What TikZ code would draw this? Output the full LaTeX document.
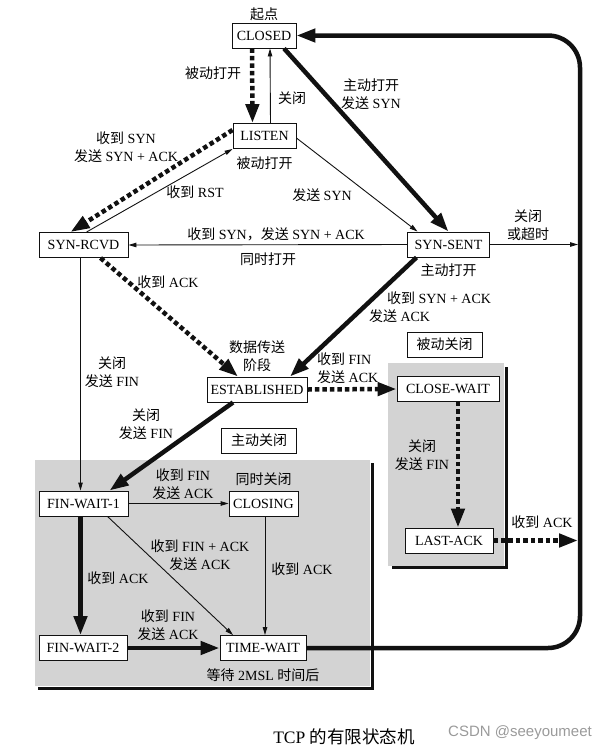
\documentclass[tikz,border=0pt]{standalone}
\usepackage{fontspec}
\setmainfont{Liberation Serif}
\setsansfont{Liberation Sans}
\newfontfamily\zhfont{Noto Sans CJK SC}
\newcommand\zhtext[1]{{\zhfont #1}}
\usepackage{xcolor}
\usepackage{tikz}
\usetikzlibrary{arrows.meta,positioning,calc}
\definecolor{fsmInk}{HTML}{111111}
\definecolor{fsmPanel}{HTML}{D3D3D3}
\definecolor{fsmMark}{HTML}{9A9A9A}
\newcommand\fsmfont{\fontsize{14}{17.5}\selectfont}
\tikzset{
  state box/.style={draw=fsmInk,line width=0.9pt,fill=white,minimum height=25pt,inner sep=2pt,font=\fsmfont},
  phase box/.style={state box,minimum width=75pt},
  edge note/.style={font=\fsmfont,align=center,inner sep=1pt},
  thin arrow/.style={-{Triangle[length=8pt,width=4.5pt]},line width=0.9pt,draw=fsmInk},
  heavy arrow/.style={-{Triangle[length=19pt,width=13pt]},line width=4.5pt,draw=fsmInk},
  dotted arrow/.style={heavy arrow,dash pattern=on 4.5pt off 3pt},
  panel shadow/.style={line width=3pt,draw=fsmInk}
}

\begin{document}
\begin{tikzpicture}[x=1pt,y=-1pt]
\useasboundingbox (0,0) rectangle (608,750);
% shaded closing areas
\fill[fsmPanel] (35,460) rectangle (370,686);
\draw[panel shadow] (38,688) -- (372,688) -- (372,463);
\fill[fsmPanel] (388,363) rectangle (504,566);
\draw[panel shadow] (392,567) -- (506,567) -- (506,367);

% states
\node[state box,minimum width=64pt] (closed) at (264,35.5) {CLOSED};
\node[state box,minimum width=63pt] (listen) at (264.5,136) {LISTEN};
\node[state box,minimum width=89pt] (synrcvd) at (83.5,245) {SYN-RCVD};
\node[state box,minimum width=82pt] (synsent) at (448.5,244.5) {SYN-SENT};
\node[state box,minimum width=100pt] (established) at (257,389.5) {ESTABLISHED};
\node[state box,minimum width=102pt] (closewait) at (448,389) {CLOSE-WAIT};
\node[state box,minimum width=88pt] (lastack) at (449,540.5) {LAST-ACK};
\node[state box,minimum width=89pt] (finwait1) at (83.5,503.5) {FIN-WAIT-1};
\node[state box,minimum width=69pt] (closing) at (263.5,503.5) {CLOSING};
\node[state box,minimum width=88pt] (finwait2) at (83,648) {FIN-WAIT-2};
\node[state box,minimum width=86pt] (timewait) at (263,648) {TIME-WAIT};
\node[phase box] (activeclose) at (259,440.5) {\zhtext{主动关闭}};
\node[phase box] (passiveclose) at (444.5,344.5) {\zhtext{被动关闭}};

% right-hand return rail
\coordinate (railTop) at (580,35.5);
\coordinate (railBottom) at (580,648);
\coordinate (railSynSent) at (578,244.5);
\coordinate (railLastAck) at (578,540.5);

% transitions
\draw[dotted arrow] ($(closed.south)+(-12,0)$) -- ($(listen.north)+(-12,0)$);
\draw[thin arrow] ($(listen.north)+(6,0)$) -- ($(closed.south)+(6,0)$);
\draw[heavy arrow] ($(closed.south)+(20,0)$) -- (synsent.north);
\draw[dotted arrow] ($(listen.west)+(0,-6)$) -- ($(synrcvd.north)+(-13,0)$);
\draw[thin arrow] ($(synrcvd.north)+(3,0)$) -- (listen.south west);
\draw[thin arrow] ($(listen.east)+(0,2)$) -- ($(synsent.north)+(-31,0)$);
\draw[thin arrow] (synsent.west) -- (synrcvd.east);
\draw[thin arrow] (synsent.east) -- (railSynSent);
\draw[heavy arrow] ($(synsent.south)+(-32,0)$) -- ($(established.north)+(33,0)$);
\draw[dotted arrow] ($(synrcvd.south)+(17,0)$) -- ($(established.north)+(-19,0)$);
\draw[thin arrow] ($(synrcvd.south)+(-3,0)$) -- ($(finwait1.north)+(-3,0)$);
\draw[heavy arrow] ($(established.south)+(-24,0)$) -- ($(finwait1.north)+(26,0)$);
\draw[dotted arrow] (established.east) -- (closewait.west);
\draw[dotted arrow] ($(closewait.south)+(10,0)$) -- ($(lastack.north)+(9,0)$);
\draw[dotted arrow] (lastack.east) -- (railLastAck);
\draw[thin arrow] (finwait1.east) -- (closing.west);
\draw[thin arrow] ($(finwait1.south)+(24,0)$) -- ($(timewait.north)+(-30,0)$);
\draw[thin arrow] ($(closing.south)+(1.5,0)$) -- ($(timewait.north)+(2,0)$);
\draw[heavy arrow] ($(finwait1.south)+(-3,0)$) -- ($(finwait2.north)+(-2.5,0)$);
\draw[heavy arrow] (finwait2.east) -- (timewait.west);
\draw[heavy arrow,rounded corners=32pt] (timewait.east) -- (railBottom) -- (railTop) -- (closed.east);

% labels
\node[edge note,above=1pt of closed] (startnote) {\zhtext{起点}};
\node[edge note] (passiveopenA) at (213,73) {\zhtext{被动打开}};
\node[edge note] (closeA) at (292,98) {\zhtext{关闭}};
\node[edge note] (activeopenA) at (371,94) {\zhtext{主动打开}\\\zhtext{发送} SYN};
\node[edge note] (rcvsyn) at (126,147) {\zhtext{收到} SYN\\\zhtext{发送} SYN + ACK};
\node[edge note,below=7pt of listen] (passiveopenB) {\zhtext{被动打开}};
\node[edge note] (rcvrst) at (195,192) {\zhtext{收到} RST};
\node[edge note] (sendsyn) at (322,195) {\zhtext{发送} SYN};
\node[edge note] (simsyn) at (276,234) {\zhtext{收到} SYN\zhtext{，发送} SYN + ACK};
\node[edge note] (simopen) at (268,259) {\zhtext{同时打开}};
\node[edge note] (timeout) at (528,225) {\zhtext{关闭}\\\zhtext{或超时}};
\node[edge note,below=5pt of synsent] (activeopenB) {\zhtext{主动打开}};
\node[edge note,align=left] (rcvsynack) at (430,307) {\hspace*{18pt}\zhtext{收到} SYN + ACK\\\zhtext{发送} ACK};
\node[edge note] (rcvackA) at (168,282) {\zhtext{收到} ACK};
\node[edge note] (closefinA) at (112,372) {\zhtext{关闭}\\\zhtext{发送} FIN};
\node[edge note,above=4pt of established] (datanote) {\zhtext{数据传送}\\\zhtext{阶段}};
\node[edge note] (closefinB) at (146,424) {\zhtext{关闭}\\\zhtext{发送} FIN};
\node[edge note,align=left,anchor=west] (rcvfinA) at (316,368) {\zhtext{收到} FIN\\\zhtext{发送} ACK};
\node[edge note] (closefinC) at (422,455) {\zhtext{关闭}\\\zhtext{发送} FIN};
\node[edge note] (rcvackB) at (542,522) {\zhtext{收到} ACK};
\node[edge note] (rcvfinB) at (183,484) {\zhtext{收到} FIN\\\zhtext{发送} ACK};
\node[edge note,above=4pt of closing] (simclose) {\zhtext{同时关闭}};
\node[edge note] (rcvfinack) at (200,555) {\zhtext{收到} FIN + ACK\\\zhtext{发送} ACK};
\node[edge note] (rcvackC) at (118,578) {\zhtext{收到} ACK};
\node[edge note] (rcvackD) at (302,569) {\zhtext{收到} ACK};
\node[edge note] (rcvfinC) at (168,625) {\zhtext{收到} FIN\\\zhtext{发送} ACK};
\node[edge note,below=7pt of timewait] (msl) {\zhtext{等待} 2MSL \zhtext{时间后}};
\node[font=\fontsize{17.5}{20}\selectfont] (caption) at (344,737) {TCP \zhtext{的有限状态机}};
\node[font=\sffamily\fontsize{15}{18}\selectfont,text=fsmMark] (watermark) at (520,733) {CSDN @seeyoumeet};
\end{tikzpicture}
\end{document}
